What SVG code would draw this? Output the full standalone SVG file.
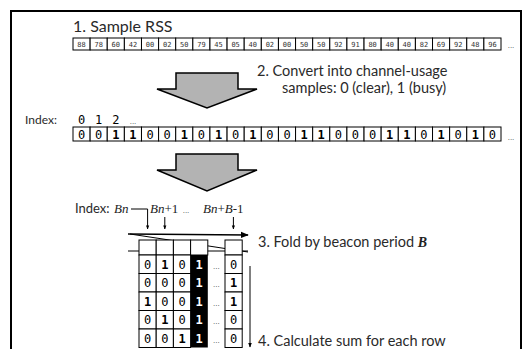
<svg xmlns="http://www.w3.org/2000/svg" width="532" height="349" viewBox="0 0 532 349">
<defs>
<style>
.lbl{font-family:Lato,"Open Sans","Liberation Sans",sans-serif;font-size:14.5px;fill:#2a2a2a}
.math{font-family:"Liberation Serif",serif;font-style:italic;font-size:13px;fill:#222}
.cell{fill:#fff;stroke:#000;stroke-width:1}
.num{font-family:"DejaVu Sans Mono",monospace;font-size:7px;fill:#333;text-anchor:middle}
.bit{font-family:"DejaVu Sans Mono",monospace;font-size:12px;fill:#000;text-anchor:middle}
.one{font-weight:bold}
.dots{font-family:"Liberation Sans",sans-serif;font-size:8px;fill:#444;text-anchor:middle}
.big{fill:#b3b3b3;stroke:#000;stroke-width:1.5;stroke-linejoin:miter}
.ln{stroke:#000;stroke-width:1;fill:none}
</style>
<marker id="ah" viewBox="0 0 10 10" refX="9" refY="5" markerWidth="5" markerHeight="5" orient="auto"><path d="M0,1 L10,5 L0,9 z" fill="#000"/></marker>
<marker id="ahs" viewBox="0 0 10 10" refX="9" refY="5" markerWidth="4" markerHeight="4" orient="auto"><path d="M0,1 L10,5 L0,9 z" fill="#000"/></marker>
</defs>
<rect x="11" y="11" width="510" height="360" fill="none" stroke="#000" stroke-width="2"/>

<g id="step1">
<text class="lbl" x="73" y="32" style="font-size:16px">1. Sample RSS</text>
</g>
<g id="rss">
<rect class="cell" x="73" y="38" width="17.12" height="12"/><text class="num" x="81.56" y="46.5">88</text>
<rect class="cell" x="90.12" y="38" width="17.12" height="12"/><text class="num" x="98.68" y="46.5">78</text>
<rect class="cell" x="107.24" y="38" width="17.12" height="12"/><text class="num" x="115.8" y="46.5">60</text>
<rect class="cell" x="124.36" y="38" width="17.12" height="12"/><text class="num" x="132.92" y="46.5">42</text>
<rect class="cell" x="141.48" y="38" width="17.12" height="12"/><text class="num" x="150.04" y="46.5">00</text>
<rect class="cell" x="158.6" y="38" width="17.12" height="12"/><text class="num" x="167.16" y="46.5">02</text>
<rect class="cell" x="175.72" y="38" width="17.12" height="12"/><text class="num" x="184.28" y="46.5">50</text>
<rect class="cell" x="192.84" y="38" width="17.12" height="12"/><text class="num" x="201.4" y="46.5">79</text>
<rect class="cell" x="209.96" y="38" width="17.12" height="12"/><text class="num" x="218.52" y="46.5">45</text>
<rect class="cell" x="227.08" y="38" width="17.12" height="12"/><text class="num" x="235.64" y="46.5">05</text>
<rect class="cell" x="244.2" y="38" width="17.12" height="12"/><text class="num" x="252.76" y="46.5">40</text>
<rect class="cell" x="261.32" y="38" width="17.12" height="12"/><text class="num" x="269.88" y="46.5">02</text>
<rect class="cell" x="278.44" y="38" width="17.12" height="12"/><text class="num" x="287" y="46.5">00</text>
<rect class="cell" x="295.56" y="38" width="17.12" height="12"/><text class="num" x="304.12" y="46.5">50</text>
<rect class="cell" x="312.68" y="38" width="17.12" height="12"/><text class="num" x="321.24" y="46.5">50</text>
<rect class="cell" x="329.8" y="38" width="17.12" height="12"/><text class="num" x="338.36" y="46.5">92</text>
<rect class="cell" x="346.92" y="38" width="17.12" height="12"/><text class="num" x="355.48" y="46.5">91</text>
<rect class="cell" x="364.04" y="38" width="17.12" height="12"/><text class="num" x="372.6" y="46.5">80</text>
<rect class="cell" x="381.16" y="38" width="17.12" height="12"/><text class="num" x="389.72" y="46.5">40</text>
<rect class="cell" x="398.28" y="38" width="17.12" height="12"/><text class="num" x="406.84" y="46.5">40</text>
<rect class="cell" x="415.4" y="38" width="17.12" height="12"/><text class="num" x="423.96" y="46.5">82</text>
<rect class="cell" x="432.52" y="38" width="17.12" height="12"/><text class="num" x="441.08" y="46.5">69</text>
<rect class="cell" x="449.64" y="38" width="17.12" height="12"/><text class="num" x="458.2" y="46.5">92</text>
<rect class="cell" x="466.76" y="38" width="17.12" height="12"/><text class="num" x="475.32" y="46.5">48</text>
<rect class="cell" x="483.88" y="38" width="17.12" height="12"/><text class="num" x="492.44" y="46.5">96</text>
<text class="dots" x="511" y="48">...</text>
</g>

<g id="arrow1">
<polygon class="big" points="176,73 238,73 238,89 257,89 207,108 157,89 176,89"/>
</g>
<g id="step2">
<text class="lbl" x="257" y="76">2. Convert into channel-usage</text>
<text class="lbl" x="282" y="93">samples: 0 (clear), 1 (busy)</text>
</g>

<g id="index1">
<text class="lbl" x="25" y="124" style="font-size:12px">Index:</text>
<text class="bit" x="81.56" y="124">0</text>
<text class="bit" x="98.68" y="124">1</text>
<text class="bit" x="115.8" y="124">2</text>
<text class="dots" x="133" y="124">...</text>
</g>

<g id="bits">
<rect class="cell" x="73" y="127" width="17.12" height="14"/><text class="bit" x="81.56" y="138.5">0</text>
<rect class="cell" x="90.12" y="127" width="17.12" height="14"/><text class="bit" x="98.68" y="138.5">0</text>
<rect class="cell" x="107.24" y="127" width="17.12" height="14"/><text class="bit one" x="115.8" y="138.5">1</text>
<rect class="cell" x="124.36" y="127" width="17.12" height="14"/><text class="bit one" x="132.92" y="138.5">1</text>
<rect class="cell" x="141.48" y="127" width="17.12" height="14"/><text class="bit" x="150.04" y="138.5">0</text>
<rect class="cell" x="158.6" y="127" width="17.12" height="14"/><text class="bit" x="167.16" y="138.5">0</text>
<rect class="cell" x="175.72" y="127" width="17.12" height="14"/><text class="bit one" x="184.28" y="138.5">1</text>
<rect class="cell" x="192.84" y="127" width="17.12" height="14"/><text class="bit" x="201.4" y="138.5">0</text>
<rect class="cell" x="209.96" y="127" width="17.12" height="14"/><text class="bit one" x="218.52" y="138.5">1</text>
<rect class="cell" x="227.08" y="127" width="17.12" height="14"/><text class="bit" x="235.64" y="138.5">0</text>
<rect class="cell" x="244.2" y="127" width="17.12" height="14"/><text class="bit one" x="252.76" y="138.5">1</text>
<rect class="cell" x="261.32" y="127" width="17.12" height="14"/><text class="bit" x="269.88" y="138.5">0</text>
<rect class="cell" x="278.44" y="127" width="17.12" height="14"/><text class="bit" x="287" y="138.5">0</text>
<rect class="cell" x="295.56" y="127" width="17.12" height="14"/><text class="bit one" x="304.12" y="138.5">1</text>
<rect class="cell" x="312.68" y="127" width="17.12" height="14"/><text class="bit one" x="321.24" y="138.5">1</text>
<rect class="cell" x="329.8" y="127" width="17.12" height="14"/><text class="bit" x="338.36" y="138.5">0</text>
<rect class="cell" x="346.92" y="127" width="17.12" height="14"/><text class="bit" x="355.48" y="138.5">0</text>
<rect class="cell" x="364.04" y="127" width="17.12" height="14"/><text class="bit" x="372.6" y="138.5">0</text>
<rect class="cell" x="381.16" y="127" width="17.12" height="14"/><text class="bit one" x="389.72" y="138.5">1</text>
<rect class="cell" x="398.28" y="127" width="17.12" height="14"/><text class="bit one" x="406.84" y="138.5">1</text>
<rect class="cell" x="415.4" y="127" width="17.12" height="14"/><text class="bit" x="423.96" y="138.5">0</text>
<rect class="cell" x="432.52" y="127" width="17.12" height="14"/><text class="bit one" x="441.08" y="138.5">1</text>
<rect class="cell" x="449.64" y="127" width="17.12" height="14"/><text class="bit" x="458.2" y="138.5">0</text>
<rect class="cell" x="466.76" y="127" width="17.12" height="14"/><text class="bit one" x="475.32" y="138.5">1</text>
<rect class="cell" x="483.88" y="127" width="17.12" height="14"/><text class="bit" x="492.44" y="138.5">0</text>
<text class="dots" x="511" y="140">...</text>
</g>

<g id="arrow2">
<polygon class="big" points="176,154 238,154 238,170 257,170 207,191 157,170 176,170"/>
</g>

<g id="index2">
<text class="lbl" x="75" y="213" style="font-size:13px">Index:</text>
<text class="math" x="114" y="213">Bn</text>
<text class="math" x="150" y="213">Bn<tspan style="font-style:normal">+1</tspan></text>
<text class="dots" x="186" y="213">...</text>
<text class="math" x="203" y="213">Bn<tspan style="font-style:normal">+</tspan>B<tspan style="font-style:normal">-1</tspan></text>
</g>

<g id="connectors">
<path class="ln" d="M131,209 H147.6 V229" marker-end="url(#ahs)"/>
<path class="ln" d="M164.8,217 V229" marker-end="url(#ahs)"/>
<path class="ln" d="M233.4,217 V229" marker-end="url(#ahs)"/>
<path d="M128,234 L248,235" stroke="#000" stroke-width="1.6" fill="none" marker-end="url(#ah)"/>
<path class="ln" d="M130,234 L248,252"/>
<path class="ln" d="M128,251 H248"/>
<path class="ln" d="M250,266 V347" marker-end="url(#ah)"/>
</g>

<g id="table">
<rect class="cell" x="139" y="240" width="17.2" height="15"/>
<rect class="cell" x="156.2" y="240" width="17.2" height="15"/>
<rect class="cell" x="173.4" y="240" width="17.2" height="15"/>
<rect class="cell" x="190.6" y="240" width="17.2" height="15"/>
<rect class="cell" x="225" y="240" width="17.2" height="15"/>
<rect x="190.6" y="255" width="17.2" height="92.5" fill="#000"/>
<g id="rows">
<rect class="cell" x="139" y="255" width="17.2" height="18.5"/><rect class="cell" x="156.2" y="255" width="17.2" height="18.5"/><rect class="cell" x="173.4" y="255" width="17.2" height="18.5"/><rect class="cell" x="225" y="255" width="17.2" height="18.5"/>
<rect class="cell" x="139" y="273.5" width="17.2" height="18.5"/><rect class="cell" x="156.2" y="273.5" width="17.2" height="18.5"/><rect class="cell" x="173.4" y="273.5" width="17.2" height="18.5"/><rect class="cell" x="225" y="273.5" width="17.2" height="18.5"/>
<rect class="cell" x="139" y="292" width="17.2" height="18.5"/><rect class="cell" x="156.2" y="292" width="17.2" height="18.5"/><rect class="cell" x="173.4" y="292" width="17.2" height="18.5"/><rect class="cell" x="225" y="292" width="17.2" height="18.5"/>
<rect class="cell" x="139" y="310.5" width="17.2" height="18.5"/><rect class="cell" x="156.2" y="310.5" width="17.2" height="18.5"/><rect class="cell" x="173.4" y="310.5" width="17.2" height="18.5"/><rect class="cell" x="225" y="310.5" width="17.2" height="18.5"/>
<rect class="cell" x="139" y="329" width="17.2" height="18.5"/><rect class="cell" x="156.2" y="329" width="17.2" height="18.5"/><rect class="cell" x="173.4" y="329" width="17.2" height="18.5"/><rect class="cell" x="225" y="329" width="17.2" height="18.5"/>
</g>
<g id="rowtext">
<text class="bit" x="147.6" y="268.5">0</text><text class="bit one" x="164.8" y="268.5">1</text><text class="bit" x="182" y="268.5">0</text><text class="bit one" x="199.2" y="268.5" style="fill:#fff">1</text><text class="dots" x="216.4" y="268.5">...</text><text class="bit" x="233.6" y="268.5">0</text>
<text class="bit" x="147.6" y="287">0</text><text class="bit" x="164.8" y="287">0</text><text class="bit" x="182" y="287">0</text><text class="bit one" x="199.2" y="287" style="fill:#fff">1</text><text class="dots" x="216.4" y="287">...</text><text class="bit one" x="233.6" y="287">1</text>
<text class="bit one" x="147.6" y="305.5">1</text><text class="bit" x="164.8" y="305.5">0</text><text class="bit" x="182" y="305.5">0</text><text class="bit one" x="199.2" y="305.5" style="fill:#fff">1</text><text class="dots" x="216.4" y="305.5">...</text><text class="bit one" x="233.6" y="305.5">1</text>
<text class="bit" x="147.6" y="324">0</text><text class="bit one" x="164.8" y="324">1</text><text class="bit" x="182" y="324">0</text><text class="bit one" x="199.2" y="324" style="fill:#fff">1</text><text class="dots" x="216.4" y="324">...</text><text class="bit" x="233.6" y="324">0</text>
<text class="bit" x="147.6" y="342.5">0</text><text class="bit" x="164.8" y="342.5">0</text><text class="bit one" x="182" y="342.5">1</text><text class="bit one" x="199.2" y="342.5" style="fill:#fff">1</text><text class="dots" x="216.4" y="342.5">...</text><text class="bit" x="233.6" y="342.5">0</text>
</g>
</g>

<g id="step3">
<text class="lbl" x="258" y="247">3. Fold by beacon period <tspan class="math" style="font-size:14px;font-weight:bold">B</tspan></text>
</g>
<g id="step4">
<text class="lbl" x="258" y="346">4. Calculate sum for each row</text>
</g>
</svg>
